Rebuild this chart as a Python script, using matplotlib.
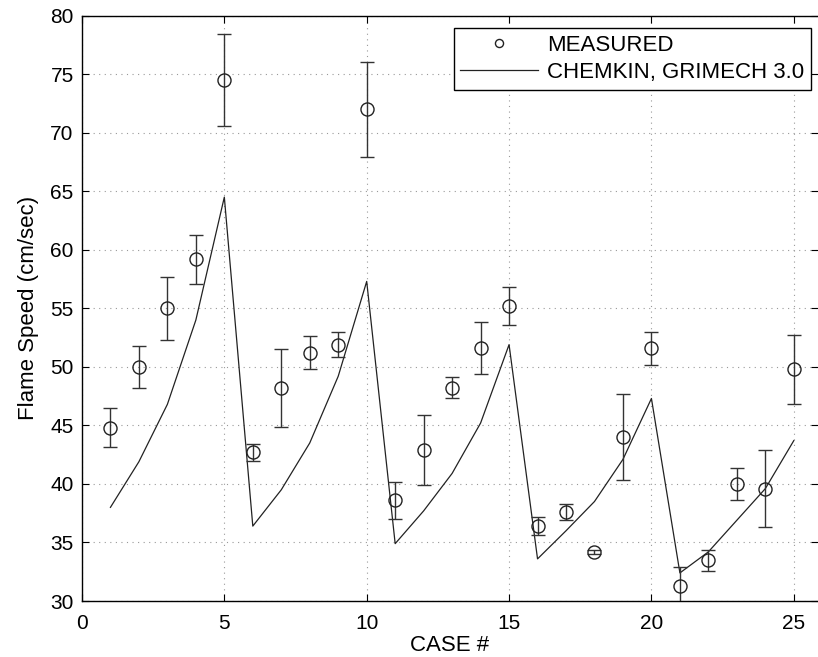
import numpy as np
import matplotlib
matplotlib.use('Agg')
import matplotlib.pyplot as plt

plt.rcParams['font.family'] = ['Liberation Sans', 'DejaVu Sans']

# Datos
cases = np.arange(1, 26)
measured = [44.8, 50.0, 55.0, 59.2, 74.5, 42.7, 48.2, 51.2, 51.9, 72.0,
            38.6, 42.9, 48.2, 51.6, 55.2, 36.4, 37.6, 34.2, 44.0, 51.6,
            31.3, 33.5, 40.0, 39.6, 49.8]
meas_err = [1.65, 1.8, 2.7, 2.1, 3.9, 0.7, 3.3, 1.4, 1.05, 4.05,
            1.6, 3.0, 0.9, 2.25, 1.65, 0.8, 0.7, 0.15, 3.7, 1.4,
            1.6, 0.9, 1.35, 3.3, 2.95]
chemkin = [38.0, 41.9, 46.8, 54.0, 64.5, 36.4, 39.5, 43.5, 49.2, 57.3,
           34.9, 37.7, 40.9, 45.2, 51.9, 33.6, 36.0, 38.5, 42.1, 47.3,
           32.4, 34.2, 36.9, 39.6, 43.7]

fig = plt.figure(figsize=(8.18, 6.57), dpi=100, facecolor='white')
ax = fig.add_axes([0.1002, 0.0852, 0.8998, 0.891])

# Barras de error y marcadores
ax.errorbar(cases, measured, yerr=meas_err, fmt='none', ecolor='#333333',
            elinewidth=1.0, capsize=4.7, capthick=1.0, zorder=3)
ax.plot(cases, measured, 'o', mfc='none', mec='#222222', mew=1.0,
        markersize=9.4, label='MEASURED', zorder=4)
ax.plot(cases, chemkin, '-', color='#222222', linewidth=0.9,
        label='CHEMKIN, GRIMECH 3.0', zorder=2)

ax.set_xlim(0, 25.85)
ax.set_ylim(30, 80)
ax.set_xticks([0, 5, 10, 15, 20, 25])
ax.set_yticks(np.arange(30, 81, 5))

ax.grid(True, color='#999999', linestyle=(0, (1, 4)), linewidth=0.8)
ax.tick_params(direction='in', top=True, right=True, length=5,
               labelsize=15, width=0.8, pad=6)
ax.tick_params(axis='x', pad=9)
ax.spines['right'].set_visible(False)
for s in ['left', 'bottom', 'top']:
    ax.spines[s].set_linewidth(1.0)

ax.set_xlabel('CASE #', fontsize=16, labelpad=2)
ax.set_ylabel('Flame Speed (cm/sec)', fontsize=16, labelpad=8)

leg = ax.legend(loc='upper right', fontsize=16, frameon=True, fancybox=False,
                edgecolor='black', framealpha=1.0, handlelength=3.5,
                markerscale=0.62, borderpad=0.3, labelspacing=0.3,
                handletextpad=0.4, borderaxespad=0,
                bbox_to_anchor=(0.990, 0.979))
leg.get_frame().set_linewidth(1.0)

plt.savefig('out.png', dpi=100, facecolor='white')
